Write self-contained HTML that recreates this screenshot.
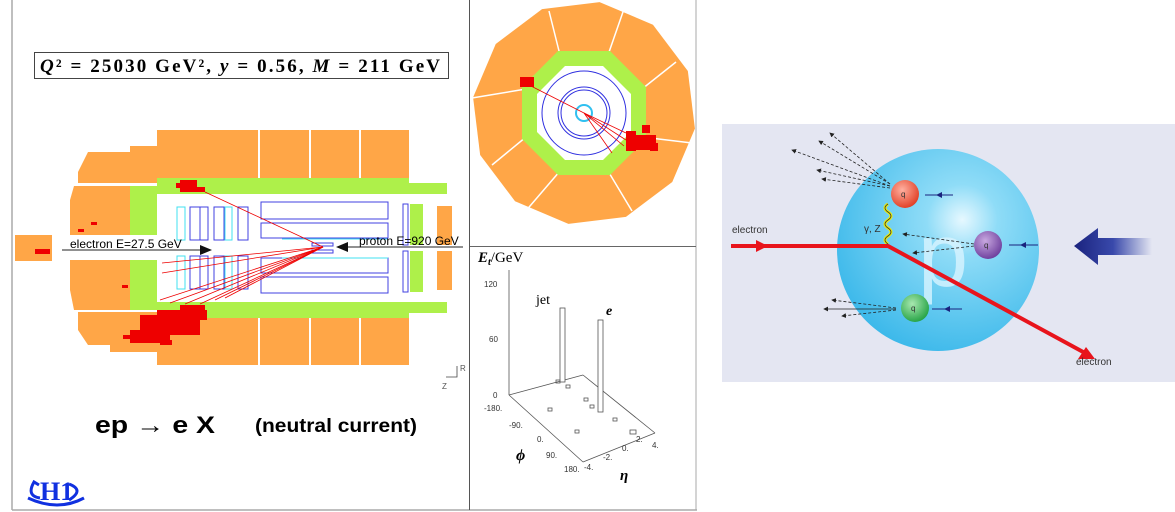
<!DOCTYPE html>
<html><head><meta charset="utf-8"><style>
html,body{margin:0;padding:0;background:#fff;width:1175px;height:512px;overflow:hidden}
svg{display:block;font-family:"Liberation Sans",sans-serif}
</style></head><body>
<svg width="1175" height="512" viewBox="0 0 1175 512">
<defs>
<radialGradient id="sph" cx="0.62" cy="0.35" r="0.7">
<stop offset="0" stop-color="#e6f8ff"/><stop offset="0.25" stop-color="#8fdcf7"/><stop offset="1" stop-color="#3bb8ea"/>
</radialGradient>
<radialGradient id="qr" cx="0.4" cy="0.35" r="0.7"><stop offset="0" stop-color="#ffb0a0"/><stop offset="1" stop-color="#e03a20"/></radialGradient>
<radialGradient id="qp" cx="0.4" cy="0.35" r="0.7"><stop offset="0" stop-color="#c8a8e0"/><stop offset="1" stop-color="#6a3a9a"/></radialGradient>
<radialGradient id="qg" cx="0.4" cy="0.35" r="0.7"><stop offset="0" stop-color="#a8e8b0"/><stop offset="1" stop-color="#20a040"/></radialGradient>
<linearGradient id="bar" x1="0" x2="1"><stop offset="0" stop-color="#1a237e"/><stop offset="0.5" stop-color="#3949ab"/><stop offset="1" stop-color="#e4e6f2"/></linearGradient>
<marker id="ah" markerWidth="6" markerHeight="6" refX="5" refY="3" orient="auto"><path d="M0,0 L6,3 L0,6z" fill="#222"/></marker>
<marker id="ab" markerWidth="6" markerHeight="6" refX="3" refY="3" orient="auto"><path d="M0,0 L6,3 L0,6z" fill="#1a237e"/></marker>
</defs>
<line x1="12" y1="0" x2="12" y2="510" stroke="#aaa" stroke-width="1.5"/>
<line x1="12" y1="510" x2="697" y2="510" stroke="#aaa" stroke-width="1.5"/>
<line x1="469.5" y1="0" x2="469.5" y2="510" stroke="#555"/>
<line x1="696" y1="0" x2="696" y2="510" stroke="#aaa"/>
<line x1="470" y1="246.5" x2="696" y2="246.5" stroke="#666"/>

<rect x="34.5" y="52.5" width="414" height="26" fill="#fff" stroke="#444"/>
<text x="40" y="72" font-family="Liberation Serif,serif" font-size="19" font-weight="bold" textLength="400" lengthAdjust="spacing"><tspan font-style="italic">Q</tspan>² = 25030 GeV²,   <tspan font-style="italic">y</tspan> = 0.56,   <tspan font-style="italic">M</tspan> = 211 GeV</text>

<g fill="#ffa647">
<rect x="157" y="130" width="101" height="52"/><rect x="260" y="130" width="49" height="48"/><rect x="311" y="130" width="48" height="48"/><rect x="361" y="130" width="48" height="48"/>
<polygon points="88,152 130,152 130,146 157,146 157,183 78,183 78,172"/>
<polygon points="74,186 130,186 130,235 70,235 70,200"/>
<polygon points="70,260 130,260 130,310 74,310 70,290"/>
<polygon points="78,312 157,312 157,352 110,352 110,345 88,345 78,330"/>
<rect x="157" y="317" width="101" height="48"/><rect x="260" y="318" width="49" height="47"/><rect x="311" y="318" width="48" height="47"/><rect x="361" y="318" width="48" height="47"/>
<rect x="15" y="235" width="37" height="26"/>
<rect x="437" y="206" width="15" height="39"/><rect x="437" y="251" width="15" height="39"/>
</g>
<g fill="#aef04a">
<rect x="157" y="178" width="252" height="16"/><rect x="409" y="183" width="38" height="11"/>
<rect x="157" y="302" width="252" height="16"/><rect x="409" y="302" width="38" height="11"/>
<rect x="130" y="186" width="27" height="49"/><rect x="130" y="260" width="27" height="50"/>
<rect x="410" y="204" width="13" height="41"/><rect x="410" y="251" width="13" height="41"/>
</g>
<g fill="none" stroke="#4040e0" stroke-width="1">
<rect x="261" y="202" width="127" height="17"/><rect x="261" y="223" width="127" height="15"/>
<rect x="261" y="258" width="127" height="15"/><rect x="261" y="277" width="127" height="16"/>
<rect x="190" y="207" width="10" height="33"/><rect x="200" y="207" width="8" height="33"/><rect x="214" y="207" width="10" height="33"/><rect x="238" y="207" width="10" height="33"/>
<rect x="190" y="256" width="10" height="33"/><rect x="200" y="256" width="8" height="33"/><rect x="214" y="256" width="10" height="33"/><rect x="238" y="256" width="10" height="33"/>
<rect x="403" y="204" width="5" height="41"/><rect x="403" y="251" width="5" height="41"/>
<rect x="312" y="243" width="21" height="3"/><rect x="312" y="250" width="21" height="3"/>
</g>
<g fill="none" stroke="#40e0f0" stroke-width="1">
<rect x="177" y="207" width="8" height="33"/><rect x="225" y="207" width="7" height="33"/>
<rect x="177" y="256" width="8" height="33"/><rect x="225" y="256" width="7" height="33"/>
<line x1="282" y1="239" x2="388" y2="239"/><line x1="282" y1="258" x2="388" y2="258"/>
</g>
<g stroke="#e00" stroke-width="0.8">
<line x1="323" y1="247" x2="205" y2="192"/>
<line x1="323" y1="247" x2="162" y2="263"/><line x1="323" y1="247" x2="162" y2="273"/>
<line x1="323" y1="247" x2="160" y2="300"/><line x1="323" y1="247" x2="170" y2="303"/>
<line x1="323" y1="247" x2="185" y2="304"/><line x1="323" y1="247" x2="200" y2="304"/>
<line x1="323" y1="247" x2="215" y2="300"/><line x1="323" y1="247" x2="225" y2="298"/>
</g>
<g fill="#e00">
<rect x="180" y="180" width="17" height="12"/><rect x="176" y="183" width="5" height="5"/><rect x="197" y="187" width="8" height="5"/>
<rect x="140" y="315" width="60" height="20"/><rect x="130" y="330" width="40" height="13"/><rect x="157" y="310" width="50" height="10"/>
<rect x="145" y="320" width="45" height="10"/><rect x="160" y="340" width="12" height="5"/><rect x="123" y="335" width="8" height="4"/>
<rect x="180" y="305" width="25" height="6"/><rect x="78" y="229" width="6" height="3"/><rect x="91" y="222" width="6" height="3"/>
<rect x="35" y="249" width="15" height="5"/><rect x="122" y="285" width="6" height="3"/>
</g>
<line x1="62" y1="250" x2="200" y2="250" stroke="#222"/>
<polygon points="212,250 200,245 200,255" fill="#111"/>
<text x="70" y="248" font-size="12">electron E=27.5 GeV</text>
<line x1="348" y1="247" x2="463" y2="247" stroke="#222"/>
<polygon points="336,247 348,242 348,252" fill="#111"/>
<text x="359" y="245" font-size="12">proton E=920 GeV</text>
<g stroke="#444" stroke-width="0.8" fill="none"><polyline points="457,366 457,377 446,377"/></g>
<text x="460" y="371" font-size="8" fill="#555">R</text><text x="442" y="389" font-size="8" fill="#555">Z</text>

<text x="95" y="433" font-size="24" font-weight="bold" textLength="120" lengthAdjust="spacingAndGlyphs">ep → e X</text>
<text x="255" y="432" font-size="19" font-weight="bold" textLength="162" lengthAdjust="spacingAndGlyphs">(neutral current)</text>
<text x="40" y="500" font-family="Liberation Serif,serif" font-size="26" font-weight="bold" fill="#1030e0">H1</text>
<path d="M40,498 q-14,-2 -6,-16 l5,3 M69,484 q16,6 0,16 M28,498 q30,14 56,0" fill="none" stroke="#1030e0" stroke-width="3"/>

<g transform="translate(584,113)">
<polygon points="0,-112 56,-97 97,-56 112,0 97,56 56,97 0,112 -56,97 -97,56 -112,0 -97,-56 -56,-97" fill="#ffa647" transform="rotate(8)"/>
<g stroke="#fff" stroke-width="1.5">
<line x1="-24" y1="-58" x2="-35" y2="-102"/><line x1="24" y1="-58" x2="40" y2="-104"/>
<line x1="58" y1="-24" x2="92" y2="-51"/><line x1="58" y1="24" x2="108" y2="30"/>
<line x1="24" y1="58" x2="48" y2="98"/><line x1="-24" y1="58" x2="-60" y2="100"/>
<line x1="-58" y1="24" x2="-92" y2="52"/><line x1="-58" y1="-24" x2="-112" y2="-15"/>
</g>
<polygon points="-26,-62 26,-62 62,-26 62,26 26,62 -26,62 -62,26 -62,-26" fill="#aef04a"/>
<polygon points="-19,-47 19,-47 47,-19 47,19 19,47 -19,47 -47,19 -47,-19" fill="#fff"/>
<g fill="none" stroke="#3030e0"><circle r="42"/><circle r="26"/><circle r="23"/></g>
<circle r="8" fill="none" stroke="#30c0f0" stroke-width="2"/>
<g stroke="#e00" stroke-width="0.8"><line x1="0" y1="0" x2="-55" y2="-28"/><line x1="0" y1="0" x2="42" y2="20"/><line x1="0" y1="0" x2="42" y2="27"/><line x1="0" y1="0" x2="40" y2="33"/><line x1="0" y1="0" x2="28" y2="40"/></g>
<g fill="#e00"><rect x="-64" y="-36" width="14" height="10"/><rect x="42" y="18" width="10" height="20"/><rect x="52" y="22" width="20" height="15"/><rect x="58" y="12" width="8" height="8"/><rect x="66" y="30" width="8" height="8"/></g>
</g>

<text x="478" y="262" font-family="Liberation Serif,serif" font-size="15"><tspan font-weight="bold" font-style="italic">E<tspan font-size="10" dy="3">t</tspan></tspan><tspan dy="-3">/GeV</tspan></text>
<g stroke="#555" stroke-width="0.8" fill="none">
<line x1="509" y1="270" x2="509" y2="395"/>
<line x1="509" y1="395" x2="583" y2="375"/><line x1="583" y1="375" x2="655" y2="433"/>
<line x1="509" y1="395" x2="583" y2="462"/><line x1="583" y1="462" x2="655" y2="433"/>
<rect x="560" y="308" width="5" height="74" fill="#fff"/><rect x="598" y="320" width="5" height="92" fill="#fff"/>
<rect x="556" y="380" width="4" height="3"/><rect x="566" y="385" width="4" height="3"/><rect x="584" y="398" width="4" height="3"/><rect x="590" y="405" width="4" height="3"/><rect x="613" y="418" width="4" height="3"/><rect x="630" y="430" width="6" height="4"/><rect x="575" y="430" width="4" height="3"/><rect x="548" y="408" width="4" height="3"/>
</g>
<g font-size="8" fill="#333"><text x="484" y="287">120</text><text x="489" y="342">60</text><text x="493" y="398">0</text>
<text x="484" y="411">-180.</text><text x="509" y="428">-90.</text><text x="537" y="442">0.</text><text x="546" y="458">90.</text><text x="564" y="472">180.</text>
<text x="584" y="470">-4.</text><text x="603" y="460">-2.</text><text x="622" y="451">0.</text><text x="636" y="442">2.</text><text x="652" y="448">4.</text></g>
<text x="536" y="304" font-family="Liberation Serif,serif" font-size="14">jet</text>
<text x="606" y="315" font-family="Liberation Serif,serif" font-size="14" font-style="italic" font-weight="bold">e</text>
<text x="516" y="460" font-family="Liberation Serif,serif" font-size="16" font-style="italic" font-weight="bold">ϕ</text>
<text x="620" y="480" font-family="Liberation Serif,serif" font-size="15" font-style="italic" font-weight="bold">η</text>

<rect x="722" y="124" width="453" height="258" fill="#e4e6f2"/>
<circle cx="938" cy="250" r="101" fill="url(#sph)"/>
<text x="918" y="286" font-size="90" fill="#d8f4ff" fill-opacity="0.8">p</text>
<g stroke="#222" stroke-width="0.8" stroke-dasharray="3,2" fill="none" marker-end="url(#ah)">
<line x1="890" y1="184" x2="830" y2="133"/><line x1="890" y1="184" x2="819" y2="141"/><line x1="890" y1="186" x2="792" y2="150"/><line x1="890" y1="186" x2="817" y2="170"/><line x1="890" y1="188" x2="822" y2="179"/>
<line x1="974" y1="244" x2="903" y2="234"/><line x1="974" y1="246" x2="913" y2="253"/>
<line x1="896" y1="308" x2="832" y2="300"/><line x1="896" y1="310" x2="842" y2="316"/>
</g>
<line x1="896" y1="309" x2="824" y2="309" stroke="#222" stroke-width="0.8" marker-end="url(#ah)"/>
<g stroke="#1a237e" marker-mid="url(#ab)"><polyline points="953,195 939,195 925,195" fill="none"/><polyline points="1038,245 1023,245 1009,245" fill="none"/><polyline points="962,309 947,309 932,309" fill="none"/></g>
<circle cx="905" cy="194" r="14" fill="url(#qr)"/><circle cx="988" cy="245" r="14" fill="url(#qp)"/><circle cx="915" cy="308" r="14" fill="url(#qg)"/>
<g font-size="8" fill="#333"><text x="901" y="197">q</text><text x="984" y="248">q</text><text x="911" y="311">q</text></g>
<path d="M888,244 q-6,-4 0,-8 q6,-4 0,-8 q-6,-4 0,-8 q6,-4 0,-8 q-6,-4 0,-8" fill="none" stroke="#ee0" stroke-width="3"/>
<path d="M888,244 q-6,-4 0,-8 q6,-4 0,-8 q-6,-4 0,-8 q6,-4 0,-8 q-6,-4 0,-8" fill="none" stroke="#333" stroke-width="0.8"/>
<text x="864" y="232" font-size="10" fill="#333">γ, Z</text>
<polyline points="731,246 888,246 1085,353" fill="none" stroke="#e8141c" stroke-width="4"/>
<polygon points="768,246 756,240 756,252" fill="#e8141c"/>
<polygon points="1095,359 1078,359 1086,347" fill="#e8141c"/>
<text x="732" y="233" font-size="10" fill="#333">electron</text>
<text x="1076" y="365" font-size="10" fill="#333">electron</text>
<polygon points="1074,246 1098,228 1098,238 1152,238 1152,255 1098,255 1098,265" fill="url(#bar)"/>
</svg>
</body></html>
